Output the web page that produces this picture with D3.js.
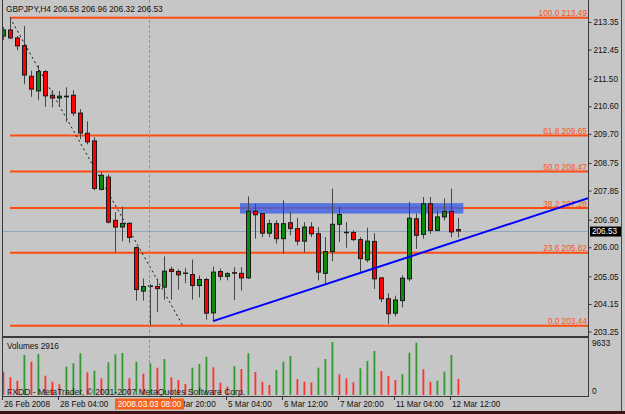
<!DOCTYPE html>
<html>
<head>
<meta charset="utf-8">
<script src="https://cdn.jsdelivr.net/npm/d3@7"></script>
<style>
  body { margin: 0; background: #c6c6c6; }
  svg { display: block; }
  text { font-family: "Liberation Sans", Arial, sans-serif; }
</style>
</head>
<body>
<div id="chart"></div>
<script>
// GBPJPY H4 candles
const opens = [212.89, 213.09, 212.83, 212.58, 211.58, 211.10, 211.73, 210.96, 210.87, 210.93,
  210.96, 210.38, 209.72, 209.47, 207.89, 208.29, 206.88, 206.66, 206.78, 205.99,
  204.57, 204.72, 204.72, 204.70, 205.28, 205.21, 205.15, 205.11, 204.75, 204.95,
  203.86, 205.21, 205.05, 205.17, 205.15, 205.00, 207.18, 207.10, 206.46, 206.77,
  206.28, 206.80, 206.61, 206.20, 206.66, 206.44, 205.15, 205.86, 206.75, 206.49,
  206.48, 206.25, 205.59, 206.19, 205.00, 204.32, 203.85, 204.26, 204.97, 206.93,
  206.42, 207.42, 206.55, 206.99, 207.17, 206.58];
const highs = [213.19, 213.49, 212.89, 213.22, 211.76, 211.94, 211.78, 211.13, 211.10, 211.22,
  211.13, 210.51, 210.11, 209.59, 208.46, 208.38, 207.15, 207.33, 206.82, 206.03,
  204.98, 204.79, 204.98, 205.70, 205.37, 205.28, 205.33, 205.60, 205.08, 205.01,
  205.37, 205.31, 205.19, 205.35, 205.35, 207.66, 207.42, 207.12, 206.90, 206.88,
  207.53, 207.15, 206.96, 206.82, 206.82, 206.66, 206.33, 207.91, 207.33, 206.82,
  206.55, 206.33, 206.64, 206.46, 205.02, 204.50, 204.42, 205.08, 207.48, 207.10,
  207.64, 207.64, 207.20, 207.59, 207.91, 206.96];
const lows = [212.76, 212.79, 212.43, 211.32, 210.91, 210.80, 210.58, 210.57, 210.58, 210.09,
  210.28, 209.53, 209.36, 207.86, 207.86, 206.78, 205.84, 206.20, 206.14, 204.26,
  204.26, 203.44, 203.88, 204.29, 204.29, 204.62, 204.83, 204.29, 204.36, 203.64,
  203.59, 204.92, 204.92, 204.28, 204.59, 204.97, 206.28, 206.33, 206.33, 206.12,
  205.79, 206.39, 206.06, 205.84, 206.33, 204.92, 204.81, 205.55, 206.17, 205.98,
  206.20, 205.19, 205.51, 204.64, 204.21, 203.50, 203.74, 204.04, 204.89, 205.95,
  206.28, 206.44, 206.53, 206.88, 206.33, 206.32];
const closes = [213.09, 212.83, 212.57, 211.62, 211.16, 211.73, 210.94, 210.87, 210.93, 210.91,
  210.38, 209.73, 209.44, 207.92, 208.35, 206.82, 206.66, 206.78, 206.32, 204.62,
  204.72, 204.74, 204.65, 205.22, 205.21, 205.10, 205.16, 204.75, 204.95, 203.85,
  205.19, 205.05, 205.14, 205.16, 205.00, 207.18, 207.06, 206.46, 206.77, 206.28,
  206.77, 206.61, 206.20, 206.66, 206.44, 205.19, 205.86, 206.75, 207.07, 206.48,
  206.25, 205.63, 206.20, 204.97, 204.32, 203.83, 204.28, 204.99, 206.95, 206.39,
  207.42, 206.55, 206.99, 207.17, 206.50, 206.53];
const volumes = [4236, 3218, 2600, 7272, 6054, 7454, 3509, 2418, 1945, 5145,
  5763, 7581, 4127, 4418, 3036, 5945, 7399, 7636, 3036, 6054,
  3872, 5763, 4963, 6545, 3218, 2727, 2000, 4963, 5636, 6963,
  5036, 2236, 1509, 5272, 4727, 7581, 4181, 2418, 1818, 4545,
  6054, 7090, 2909, 2418, 2272, 4963, 6545, 9633, 3763, 3036,
  2309, 4854, 6181, 8000, 4363, 3454, 2727, 3818, 7690, 9520,
  4672, 2418, 2600, 4236, 7272, 2916];

const fibRatios = ['100.0', '61.8', '50.0', '38.2', '23.6', '0.0'];
const fibPrices = [213.49, 209.65, 208.47, 207.28, 205.82, 203.44];
const priceTicks = [213.35, 212.45, 211.50, 210.60, 209.70, 208.75, 207.85, 206.90, 206.00, 205.05, 204.15, 203.25];
const timeTickIndex = [0, 8, 24, 32, 40, 48, 56, 64];
const timeTickText = ['26 Feb 2008', '28 Feb 04:00', '3 Mar 20:00', '5 Mar 04:00', '6 Mar 12:00', '7 Mar 20:00', '11 Mar 04:00', '12 Mar 12:00'];

// drawn objects (bar index, price)
const trendLine = [[30, 203.59], [83.57, 207.60]];
const dottedLine = [[1, 213.49], [25.7, 203.44]];
const zoneBox = { i0: 33.86, i1: 65.76, top: 207.44, bottom: 207.10 };
const crosshairIndex = 21;
const crosshairText = '2008.03.03 08:00';
const lastPrice = 206.53;

const width = 625, height = 414;
const left = 2, right = 588, mainBottom = 336, volTop = 338, volBottom = 396;

const x = d3.scaleLinear().domain([0, 83.71]).range([3, 589]);
const y = d3.scaleLinear().domain([203.105, 214.068]).range([336, 0]);
const yVol = d3.scaleLinear().domain([0, 9633]).range([395, 342]);

const svg = d3.select('#chart')
  .append('svg')
  .attr('width', width)
  .attr('height', height);

svg.append('defs')
  .append('clipPath')
  .attr('id', 'clip-main')
  .append('rect')
  .attr('x', left).attr('y', 0)
  .attr('width', right - left).attr('height', mainBottom);

svg.append('rect')
  .attr('width', width).attr('height', height)
  .attr('fill', '#c6c6c6');

const main = svg.append('g').attr('clip-path', 'url(#clip-main)');

// bid line
main.append('line')
  .attr('x1', left).attr('x2', right)
  .attr('y1', Math.round(y(lastPrice)) + 0.5).attr('y2', Math.round(y(lastPrice)) + 0.5)
  .attr('stroke', '#8ea6bb')
  .attr('stroke-width', 1);

// fibonacci levels
main.selectAll('.fib')
  .data(fibPrices)
  .enter()
  .append('line')
  .attr('class', 'fib')
  .attr('x1', x(1)).attr('x2', right)
  .attr('y1', function(d) { return y(d); })
  .attr('y2', function(d) { return y(d); })
  .attr('stroke', '#ff4a10')
  .attr('stroke-width', 2);

main.selectAll('.fib-label')
  .data(fibPrices)
  .enter()
  .append('text')
  .attr('class', 'fib-label')
  .attr('x', right - 1)
  .attr('y', function(d) { return y(d) - 1.5; })
  .attr('text-anchor', 'end')
  .attr('font-size', 8.3)
  .attr('fill', '#ff5322')
  .text(function(d, i) { return fibRatios[i] + ' ' + d.toFixed(2); });

// resistance zone
main.append('rect')
  .attr('x', x(zoneBox.i0))
  .attr('y', y(zoneBox.top))
  .attr('width', x(zoneBox.i1) - x(zoneBox.i0))
  .attr('height', y(zoneBox.bottom) - y(zoneBox.top))
  .attr('fill', '#3f62e6')
  .attr('fill-opacity', 0.82);

// dotted fib base line
main.append('line')
  .attr('x1', x(dottedLine[0][0])).attr('y1', y(dottedLine[0][1]))
  .attr('x2', x(dottedLine[1][0])).attr('y2', y(dottedLine[1][1]))
  .attr('stroke', '#111')
  .attr('stroke-width', 1)
  .attr('stroke-dasharray', '2,3');

// candles
const bars = d3.range(opens.length);
const candle = main.selectAll('.candle')
  .data(bars)
  .enter()
  .append('g')
  .attr('class', 'candle');

candle.append('line')
  .attr('x1', function(i) { return Math.round(x(i)) + 0.5; })
  .attr('x2', function(i) { return Math.round(x(i)) + 0.5; })
  .attr('y1', function(i) { return y(highs[i]); })
  .attr('y2', function(i) { return y(lows[i]); })
  .attr('stroke', '#454545')
  .attr('stroke-width', 1);

candle.append('rect')
  .attr('x', function(i) { return Math.round(x(i)) - 1.5; })
  .attr('y', function(i) { return y(Math.max(opens[i], closes[i])); })
  .attr('width', 4)
  .attr('height', function(i) { return Math.max(0.5, Math.abs(y(opens[i]) - y(closes[i]))); })
  .attr('fill', function(i) { return closes[i] >= opens[i] ? '#0b8a0b' : '#ff0000'; })
  .attr('stroke', '#1a1a1a')
  .attr('stroke-width', 1);

// trend line
main.append('line')
  .attr('x1', x(trendLine[0][0])).attr('y1', y(trendLine[0][1]))
  .attr('x2', x(trendLine[1][0])).attr('y2', y(trendLine[1][1]))
  .attr('stroke', '#0000ff')
  .attr('stroke-width', 2);

// volumes
svg.selectAll('.vol')
  .data(volumes)
  .enter()
  .append('rect')
  .attr('class', 'vol')
  .attr('x', function(d, i) { return Math.round(x(i)) - 0.5; })
  .attr('y', function(d) { return yVol(d); })
  .attr('width', 1.8)
  .attr('height', function(d) { return yVol(0) - yVol(d); })
  .attr('fill', function(d, i) { return i > 0 && d > volumes[i - 1] ? '#2f9a2f' : '#ff3030'; });

// crosshair
svg.append('line')
  .attr('x1', Math.round(x(crosshairIndex)) - 0.5).attr('x2', Math.round(x(crosshairIndex)) - 0.5)
  .attr('y1', 0).attr('y2', volBottom)
  .attr('stroke', '#f07040')
  .attr('stroke-width', 1)
  .attr('stroke-dasharray', '3,2');

// frames
const frame = svg.append('g')
  .attr('fill', 'none')
  .attr('stroke', '#3a3a3a')
  .attr('stroke-width', 1);
frame.append('line').attr('x1', left + 0.5).attr('x2', left + 0.5).attr('y1', 0).attr('y2', volBottom + 0.5);
frame.append('line').attr('x1', right + 0.5).attr('x2', right + 0.5).attr('y1', 0).attr('y2', volBottom + 0.5);
frame.append('line').attr('x1', left).attr('x2', right + 1).attr('y1', mainBottom + 0.5).attr('y2', mainBottom + 0.5);
frame.append('line').attr('x1', left).attr('x2', right + 1).attr('y1', volTop - 0.5).attr('y2', volTop - 0.5);
frame.append('line').attr('x1', left).attr('x2', right + 1).attr('y1', volBottom + 0.5).attr('y2', volBottom + 0.5);

// price axis
const axisY = d3.axisRight(y)
  .tickValues(priceTicks)
  .tickSize(3)
  .tickPadding(2)
  .tickFormat(d3.format('.2f'));
svg.append('g')
  .attr('transform', 'translate(' + (right + 0.5) + ',0)')
  .call(axisY)
  .call(function(g) { g.select('.domain').remove(); })
  .call(function(g) {
    g.selectAll('line').attr('stroke', '#333');
    g.selectAll('text').attr('font-size', 8.2).attr('font-family', '"Liberation Sans", Arial, sans-serif').attr('fill', '#111');
  });

// volume axis labels
svg.append('text').attr('x', right + 4).attr('y', 346).attr('font-size', 8.2).attr('fill', '#111').text('9633');
svg.append('text').attr('x', right + 4).attr('y', 394).attr('font-size', 8.2).attr('fill', '#111').text('0');

// last price box
svg.append('rect')
  .attr('x', right + 2).attr('y', y(lastPrice) - 4.5)
  .attr('width', 31).attr('height', 10)
  .attr('fill', '#000');
svg.append('text')
  .attr('x', right + 4).attr('y', y(lastPrice) + 3)
  .attr('font-size', 8.2).attr('fill', '#fff')
  .text(lastPrice.toFixed(2));

// time axis
const timeAxis = svg.append('g');
timeAxis.selectAll('.tick-mark')
  .data(timeTickIndex)
  .enter()
  .append('line')
  .attr('x1', function(d) { return Math.round(x(d)) - 0.5; })
  .attr('x2', function(d) { return Math.round(x(d)) - 0.5; })
  .attr('y1', volBottom).attr('y2', volBottom + 4)
  .attr('stroke', '#333');
timeAxis.selectAll('.time-label')
  .data(timeTickIndex)
  .enter()
  .append('text')
  .attr('x', function(d) { return Math.round(x(d)) + 1; })
  .attr('y', 407)
  .attr('font-size', 8.2)
  .attr('fill', '#111')
  .text(function(d, i) { return timeTickText[i]; });

// crosshair time box
svg.append('rect')
  .attr('x', x(crosshairIndex) - 35).attr('y', 398.5)
  .attr('width', 69).attr('height', 11)
  .attr('fill', '#f4621c');
svg.append('text')
  .attr('x', x(crosshairIndex) - 0.5).attr('y', 407)
  .attr('text-anchor', 'middle')
  .attr('font-size', 8.2)
  .attr('fill', '#fff')
  .text(crosshairText);

// texts
svg.append('text').attr('x', 6).attr('y', 12).attr('font-size', 8.4).attr('fill', '#111')
  .text('GBPJPY,H4  206.58 206.96 206.32 206.53');
svg.append('text').attr('x', 7).attr('y', 348.5).attr('font-size', 8.2).attr('fill', '#111')
  .text('Volumes 2916');
svg.append('text').attr('x', 7).attr('y', 395).attr('font-size', 8.6).attr('fill', '#222')
  .text('FXDD - MetaTrader, \u00a9 2001-2007 MetaQuotes Software Corp.');

// window edges
svg.append('line').attr('x1', 621.5).attr('x2', 621.5).attr('y1', 0).attr('y2', 411)
  .attr('stroke', '#4a4a4a');
svg.append('rect').attr('x', 0).attr('y', 411).attr('width', width).attr('height', 3)
  .attr('fill', '#3a1414');
</script>
</body>
</html>
